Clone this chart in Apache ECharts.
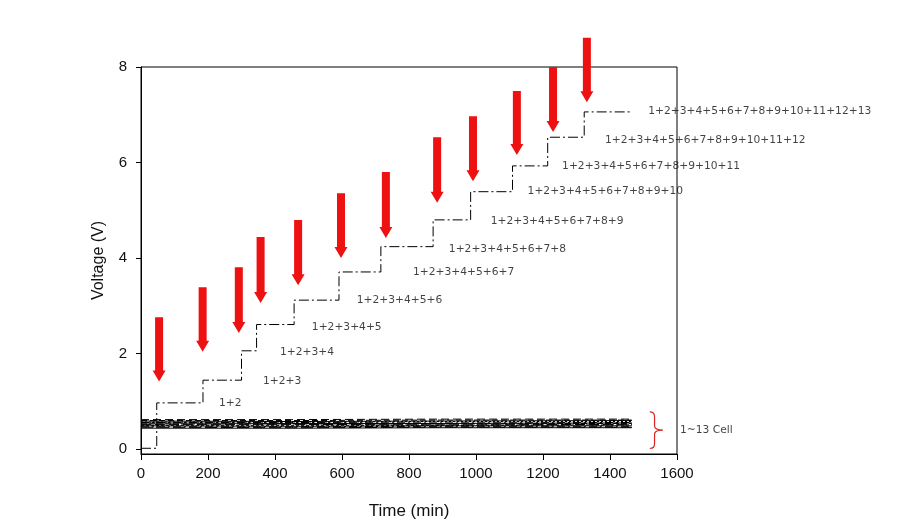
<!DOCTYPE html>
<html>
<head>
<meta charset="utf-8">
<script src="https://cdn.jsdelivr.net/npm/echarts@6/dist/echarts.min.js"></script>
<style>html,body{margin:0;padding:0;background:#fff;}#c{width:905px;height:531px;}</style>
</head>
<body>
<div id="c"></div>
<script>
// Staircase of series-connected voltage (min, V)
const stepTimes = [0, 47, 185, 300, 345, 457, 591, 716, 872, 984, 1109, 1214, 1323, 1465];
const stepVolts = [0.02, 0.97, 1.445, 2.06, 2.61, 3.12, 3.71, 4.24, 4.80, 5.39, 5.93, 6.53, 7.06];

// Individual cell voltages
const cellTimes = [0, 450, 890, 1465];
const cell1  = [0.62, 0.62, 0.63, 0.63];
const cell2  = [0.60, 0.60, 0.61, 0.61];
const cell3  = [0.59, 0.58, 0.59, 0.60];
const cell4  = [0.57, 0.57, 0.58, 0.58];
const cell5  = [0.56, 0.56, 0.55, 0.56];
const cell6  = [0.55, 0.54, 0.54, 0.55];
const cell7  = [0.53, 0.53, 0.53, 0.54];
const cell8  = [0.52, 0.52, 0.51, 0.52];
const cell9  = [0.50, 0.50, 0.50, 0.51];
const cell10 = [0.49, 0.48, 0.49, 0.49];
const cell11 = [0.47, 0.47, 0.48, 0.48];
const cell12 = [0.46, 0.45, 0.46, 0.46];
const cell13 = [0.44, 0.44, 0.45, 0.45];

// Red arrows: time, top voltage, tip voltage
const arrowTimes = [54, 184, 292, 357, 469, 597, 731, 884, 991, 1122, 1230, 1331];
const arrowTops  = [2.76, 3.39, 3.81, 4.44, 4.80, 5.36, 5.80, 6.53, 6.97, 7.50, 8.00, 8.61];
const arrowTips  = [1.42, 2.04, 2.43, 3.06, 3.43, 4.00, 4.42, 5.16, 5.61, 6.16, 6.64, 7.26];

// Step labels
const labelTexts = ['1+2', '1+2+3', '1+2+3+4', '1+2+3+4+5', '1+2+3+4+5+6', '1+2+3+4+5+6+7',
  '1+2+3+4+5+6+7+8', '1+2+3+4+5+6+7+8+9', '1+2+3+4+5+6+7+8+9+10', '1+2+3+4+5+6+7+8+9+10+11',
  '1+2+3+4+5+6+7+8+9+10+11+12', '1+2+3+4+5+6+7+8+9+10+11+12+13'];
const labelTimes = [233, 364, 415, 510, 644, 812, 919, 1044, 1154, 1257, 1385, 1514];
const labelVolts = [0.96, 1.43, 2.03, 2.56, 3.11, 3.71, 4.19, 4.78, 5.41, 5.93, 6.47, 7.08];

// Cell bracket and its label
const bracketTimes = [1519, 1533, 1558];
const bracketVolts = [0.78, 0.40, 0.015];
const cellLabel = '1~13 Cell';
const cellLabelPos = [1609, 0.40];

const xTicks = [0, 200, 400, 600, 800, 1000, 1200, 1400, 1600];
const yTicks = [0, 2, 4, 6, 8];

const stepData = [];
for (let i = 0; i < stepVolts.length; i++) {
  stepData.push([stepTimes[i], stepVolts[i]]);
  stepData.push([stepTimes[i + 1], stepVolts[i]]);
}

const cells = [cell1, cell2, cell3, cell4, cell5, cell6, cell7, cell8, cell9, cell10, cell11, cell12, cell13];
const cellDash = [[8, 4], [6, 3], 'solid', [2, 2], [8, 3, 2, 3], 'solid', [6, 2], [10, 4], [3, 2], 'solid', [8, 3, 2, 3], [12, 4], 'solid'];
const cellSeries = cells.map((c, k) => ({
  type: 'line', symbol: 'none', silent: true,
  data: cellTimes.map((t, i) => [t, c[i]]),
  lineStyle: { color: '#000', width: 1, type: cellDash[k] }
}));

const chart = echarts.init(document.getElementById('c'));
chart.setOption({
  animation: false,
  backgroundColor: '#fff',
  grid: { left: 141, right: 228, top: 67, bottom: 77, show: true, borderColor: '#000', borderWidth: 1, backgroundColor: 'transparent' },
  xAxis: {
    type: 'value', min: 0, max: 1600, interval: 200,
    name: 'Time (min)', nameLocation: 'middle', nameGap: 49,
    nameTextStyle: { fontFamily: 'Liberation Sans', fontSize: 17, color: '#111' },
    axisLine: { show: true, onZero: false, lineStyle: { color: '#000', width: 1 } },
    axisTick: { show: true, inside: false, length: 6, lineStyle: { color: '#000' } },
    axisLabel: { margin: 12, fontFamily: 'Liberation Sans', fontSize: 15, color: '#111', formatter: v => String(v) },
    splitLine: { show: false }
  },
  yAxis: {
    type: 'value', min: -0.1, max: 8,
    name: 'Voltage (V)', nameLocation: 'middle', nameGap: 34,
    nameTextStyle: { fontFamily: 'Liberation Sans', fontSize: 16, color: '#111' },
    axisLine: { show: true, onZero: false, lineStyle: { color: '#000', width: 1 } },
    axisTick: { show: true, length: 5, customValues: yTicks, lineStyle: { color: '#000' } },
    axisLabel: { margin: 14, customValues: yTicks, fontFamily: 'Liberation Sans', fontSize: 15, color: '#111' },
    splitLine: { show: false }
  },
  series: [
    ...cellSeries,
    {
      type: 'line', symbol: 'none', silent: true, data: stepData,
      lineStyle: { color: '#000', width: 1, type: [10, 3, 2, 3] }
    },
    {
      type: 'custom', clip: false, silent: true,
      data: arrowTimes.map((t, i) => [t, arrowTops[i], arrowTips[i]]),
      renderItem: function (params, api) {
        const top = api.coord([api.value(0), api.value(1)]);
        const tip = api.coord([api.value(0), api.value(2)]);
        const x = top[0], sw = 4, hw = 6.5, hl = 11;
        return {
          type: 'polygon',
          shape: { points: [[x - sw, top[1]], [x + sw, top[1]], [x + sw, tip[1] - hl], [x + hw, tip[1] - hl], [x, tip[1]], [x - hw, tip[1] - hl], [x - sw, tip[1] - hl]] },
          style: { fill: '#ee1111' }
        };
      }
    },
    {
      type: 'custom', clip: false, silent: true,
      data: [[bracketTimes[0], bracketTimes[1], bracketTimes[2], bracketVolts[0], bracketVolts[1], bracketVolts[2]]],
      renderItem: function (params, api) {
        const p0 = api.coord([api.value(0), api.value(3)]);
        const pc = api.coord([api.value(1), api.value(4)]);
        const p1 = api.coord([api.value(2), api.value(4)]);
        const pb = api.coord([api.value(0), api.value(5)]);
        const x0 = p0[0], xc = pc[0], x1 = p1[0], yt = p0[1], ym = pc[1], yb = pb[1];
        const d = 'M' + x0 + ' ' + yt + ' Q' + xc + ' ' + yt + ' ' + xc + ' ' + (yt + 5) +
          ' L' + xc + ' ' + (ym - 4) + ' Q' + xc + ' ' + ym + ' ' + x1 + ' ' + ym +
          ' Q' + xc + ' ' + ym + ' ' + xc + ' ' + (ym + 4) +
          ' L' + xc + ' ' + (yb - 5) + ' Q' + xc + ' ' + yb + ' ' + x0 + ' ' + yb;
        return { type: 'path', shape: { pathData: d }, style: { fill: 'none', stroke: '#dd2222', lineWidth: 1.2 } };
      }
    },
    {
      type: 'scatter', clip: false, silent: true, symbolSize: 0,
      data: labelTimes.map((t, i) => ({ value: [t, labelVolts[i]], name: labelTexts[i] }))
        .concat([{ value: cellLabelPos, name: cellLabel }]),
      label: {
        show: true, position: 'right', distance: 0, formatter: p => p.name,
        fontFamily: 'DejaVu Sans', fontSize: 10.7, color: '#111', align: 'left', verticalAlign: 'middle'
      }
    }
  ]
});
</script>
</body>
</html>
